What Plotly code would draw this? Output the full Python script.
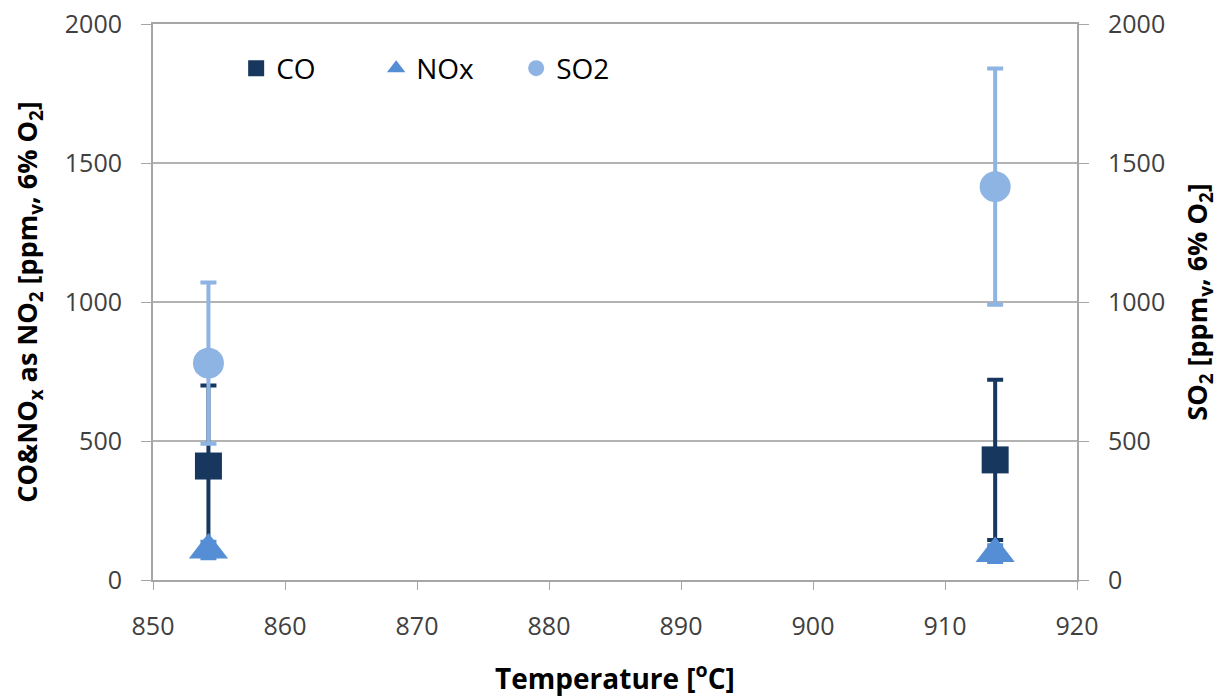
import plotly.graph_objects as go

temps = [854.2, 913.8]
co = [410, 432]
co_err = [290, 288]
nox = [108, 95]
nox_err = [30, 30]
so2 = [780, 1415]
so2_err = [290, 425]

x_ticks = [850, 860, 870, 880, 890, 900, 910, 920]
y_ticks = [0, 500, 1000, 1500, 2000]

C_CO = "#17375E"
C_NOX = "#558ED5"
C_SO2 = "#8EB4E3"
FONT = "Open Sans, Liberation Sans, sans-serif"

fig = go.Figure()
fig.add_trace(go.Scatter(
    x=temps, y=so2, name="SO2", mode="markers", yaxis="y2", legendrank=3,
    marker=dict(symbol="circle", size=31, color=C_SO2),
    error_y=dict(type="data", array=so2_err, color=C_SO2, thickness=4, width=8)))
fig.add_trace(go.Scatter(
    x=temps, y=co, name="CO", mode="markers", legendrank=1,
    marker=dict(symbol="square", size=27, color=C_CO),
    error_y=dict(type="data", array=co_err, color=C_CO, thickness=4, width=8)))
fig.add_trace(go.Scatter(
    x=temps, y=nox, name="NOx", mode="markers", legendrank=2,
    marker=dict(symbol="triangle-up", size=34, color=C_NOX),
    error_y=dict(type="data", array=nox_err, color=C_NOX, thickness=4, width=8)))

axis_line = "#a6a6a6"
fig.update_layout(
    width=1225, height=700,
    paper_bgcolor="white", plot_bgcolor="white",
    margin=dict(l=145, r=156, t=16, b=128, autoexpand=False),
    font=dict(family=FONT, size=25, color="#404040"),
    showlegend=True,
    legend=dict(orientation="h", x=0.09, y=0.965, xanchor="left", yanchor="top",
                bgcolor="rgba(0,0,0,0)", font=dict(size=28, color="#000000"),
                itemsizing="trace", itemwidth=30, entrywidth=95,
                traceorder="normal"),
    xaxis=dict(range=[850, 920], tickvals=x_ticks, showgrid=False, automargin=False,
               showline=True, linecolor=axis_line, linewidth=2, mirror=True,
               ticks="outside", ticklen=8, tickcolor=axis_line, tickwidth=1,
               ticklabelstandoff=15, ticklabeloverflow="allow", zeroline=False,
               title=dict(text="<b>Temperature [<sup>o</sup>C]</b>",
                          font=dict(size=28, color="#000000"), standoff=28)),
    yaxis=dict(range=[0, 2000], tickvals=y_ticks, showgrid=True, automargin=False,
               gridcolor="#b3b3b3", gridwidth=1.5,
               showline=True, linecolor=axis_line, linewidth=2,
               ticks="outside", ticklen=10, tickcolor=axis_line,
               ticklabelstandoff=14, ticklabeloverflow="allow", zeroline=False,
               title=dict(text="<b>CO&NO<sub>x</sub> as NO<sub>2</sub> [ppm<sub>v</sub>, 6% O<sub>2</sub>]</b>",
                          font=dict(size=27, color="#000000"), standoff=24)),
    yaxis2=dict(range=[0, 2000], tickvals=y_ticks, overlaying="y", side="right",
                automargin=False,
                showgrid=False, showline=True, linecolor=axis_line, linewidth=2,
                ticks="outside", ticklen=10, tickcolor=axis_line, zeroline=False,
                ticklabelstandoff=14, ticklabeloverflow="allow",
                title=dict(text="<b>SO<sub>2</sub> [ppm<sub>v</sub>, 6% O<sub>2</sub>]</b>",
                           font=dict(size=27, color="#000000"), standoff=24)),
)

fig.write_html("out.html")
